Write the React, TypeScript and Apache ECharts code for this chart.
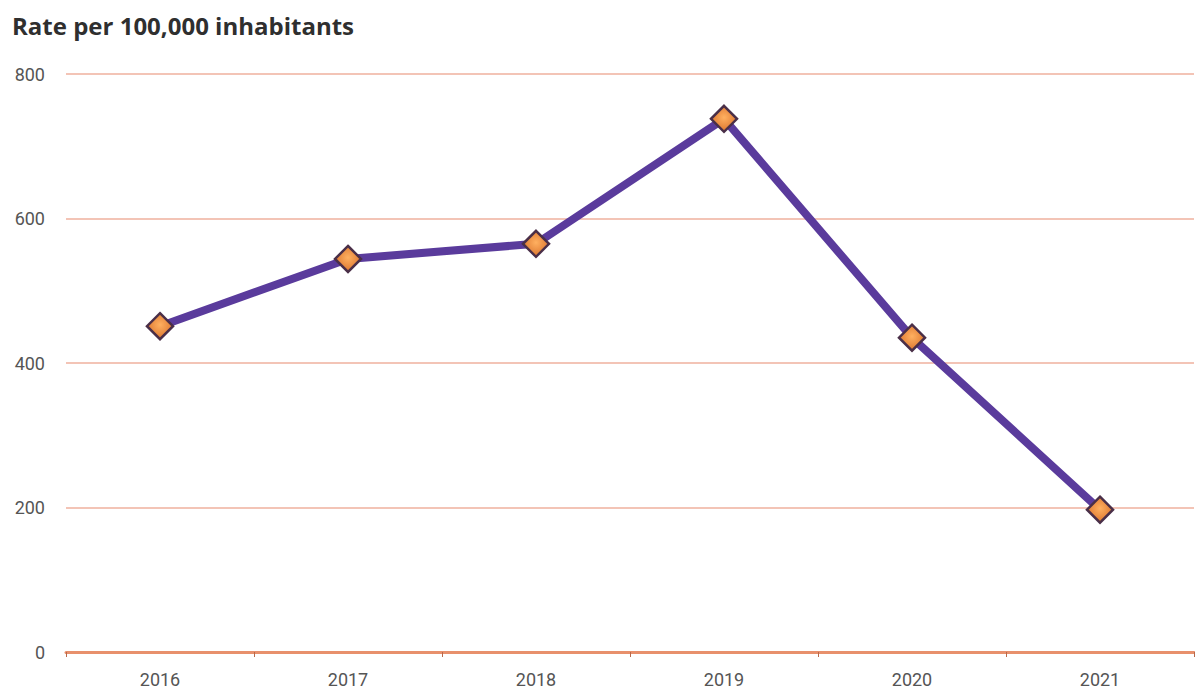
import React, { useEffect, useRef } from "react";
import * as echarts from "echarts";

const years = ["2016", "2017", "2018", "2019", "2020", "2021"];
const rates = [451, 544, 565, 738, 435, 197];
const yTicks = [0, 200, 400, 600, 800];
const titleText = "Rate per 100,000 inhabitants";

export default function App() {
  const ref = useRef<HTMLDivElement>(null);
  useEffect(() => {
    if (!ref.current) return;
    const chart = echarts.init(ref.current, undefined, { renderer: "svg" });
    chart.setOption({
      animation: false,
      backgroundColor: "#ffffff",
      title: {
        text: titleText,
        left: 7,
        top: 8,
        textStyle: {
          fontFamily: "Open Sans",
          fontWeight: "bold",
          fontSize: 24,
          color: "#2f2f2f",
        },
      },
      grid: { left: 66, right: 1, top: 74, bottom: 45 },
      xAxis: {
        type: "category",
        data: years,
        boundaryGap: true,
        axisLine: { lineStyle: { color: "#e8906c", width: 3 } },
        axisTick: { show: true, length: 5, lineStyle: { color: "#b8684a", width: 1 } },
        axisLabel: {
          color: "#555555",
          fontFamily: "Roboto, sans-serif",
          fontSize: 18,
          margin: 18,
        },
      },
      yAxis: {
        type: "value",
        min: yTicks[0],
        max: yTicks[yTicks.length - 1],
        interval: 200,
        axisLine: { show: false },
        axisTick: { show: false },
        splitLine: { lineStyle: { color: "#f3c4b6", width: 2 } },
        axisLabel: {
          color: "#555555",
          fontFamily: "Roboto, sans-serif",
          fontSize: 18,
          margin: 21,
        },
      },
      series: [
        {
          type: "line",
          data: rates,
          symbol: "diamond",
          symbolSize: 26,
          lineStyle: { color: "#5a3b9c", width: 8 },
          itemStyle: {
            color: {
              type: "radial",
              x: 0.5,
              y: 0.45,
              r: 0.6,
              colorStops: [
                { offset: 0, color: "#ffb060" },
                { offset: 1, color: "#d8702a" },
              ],
            },
            borderColor: "#4a2f48",
            borderWidth: 2.5,
          },
          z: 3,
        },
      ],
    });
    return () => chart.dispose();
  }, []);
  return (
    <div
      ref={ref}
      style={{ position: "fixed", left: 0, top: 0, width: 1195, height: 697 }}
    />
  );
}
